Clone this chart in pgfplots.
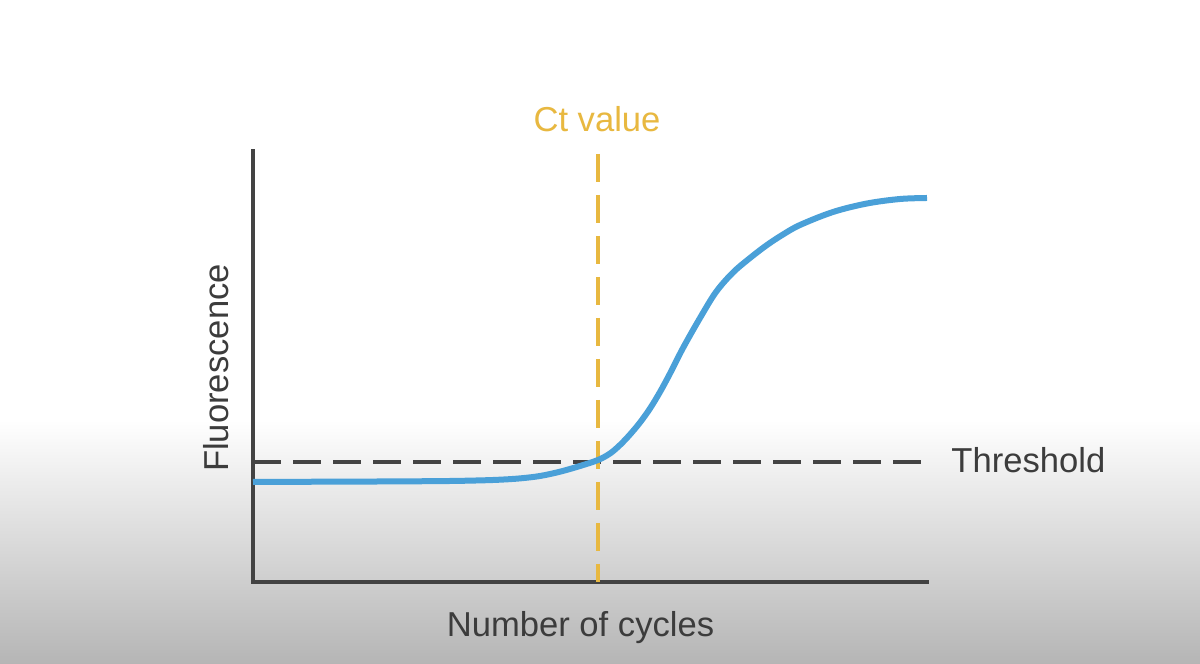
\documentclass[border=0pt]{standalone}
\usepackage{pgfplots}
\pgfplotsset{compat=1.18}
\usepackage{fontspec}
\setmainfont{Liberation Sans}
\definecolor{axisgray}{HTML}{434343}
\definecolor{txtgray}{HTML}{3C3C3C}
\definecolor{curveblue}{HTML}{4AA0D8}
\definecolor{ctgold}{HTML}{E8B840}
\definecolor{bggray}{HTML}{B5B5B5}
\begin{document}
\begin{tikzpicture}[x=0.5pt,y=0.5pt]
  % background
  \fill[white] (0,0) rectangle (1200,664);
  \shade[top color=white, bottom color=bggray] (0,0) rectangle (1200,244);
  \begin{axis}[
    at={(253,82)}, anchor=south west,
    x=0.5pt, y=0.5pt,
    xmin=253, xmax=927, ymin=82, ymax=513,
    axis x line=bottom, axis y line=left,
    axis line style={line width=2pt, draw=axisgray, -, line cap=rect},
    xtick=\empty, ytick=\empty,
    clip=false,
  ]
    % threshold
    \addplot[draw=axisgray, line width=2pt, dash pattern=on 14pt off 6pt]
      coordinates {(253,202) (921,202)};
    % Ct value line
    \addplot[draw=ctgold, line width=1.8pt, dash pattern=on 14pt off 6.5pt]
      coordinates {(598,510) (598,82)};
    % amplification curve
    \addplot[draw=curveblue, line width=3pt, smooth, tension=0.55]
      coordinates {
        (253,182) (300,182.2) (350,182.4) (400,182.6) (450,183) (480,183.6)
        (500,184.3) (520,185.6) (540,188) (560,192.3) (580,198) (598,204)
        (610,210.5) (620,219) (630,229.5) (640,241.5) (650,255.5) (660,272)
        (670,290.5) (683,316) (700,346) (716,372) (733,391.5) (750,406)
        (767,419) (783,429.5) (800,439) (833,452) (867,460.5) (900,465) (927,466)
      };
  \end{axis}
  \fontsize{17.3}{20}\selectfont
  \node[anchor=base, text=ctgold, inner sep=0pt] at (597,532) {Ct value};
  \node[anchor=base west, text=txtgray, inner sep=0pt] at (951,191) {Threshold};
  \node[anchor=base, text=txtgray, inner sep=0pt] at (580.5,27) {Number of cycles};
  \node[anchor=base, rotate=90, text=txtgray, inner sep=0pt] at (228,296) {Fluorescence};
\end{tikzpicture}
\end{document}
